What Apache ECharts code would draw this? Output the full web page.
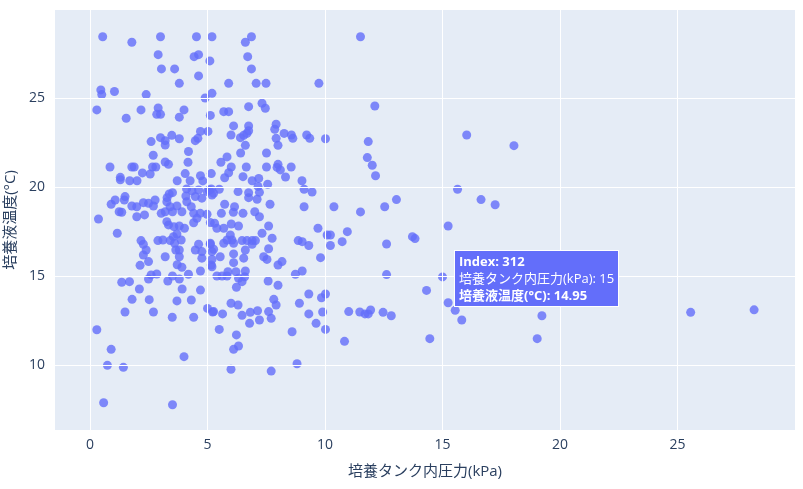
<!DOCTYPE html>
<html><head><meta charset="utf-8">
<script src="https://cdn.jsdelivr.net/npm/echarts@6/dist/echarts.min.js"></script>
<style>html,body{margin:0;padding:0;background:#fff}#c{width:803px;height:489px}</style>
</head><body><div id="c"></div>
<script>
const xName = '培養タンク内圧力(kPa)';
const yName = '培養液温度(°C)';
const xTicks = [0,5,10,15,20,25];
const yTicks = [10,15,20,25];
const points = [
[0.54,28.44],[1.78,28.13],[3.0,28.44],[4.53,28.44],[5.19,28.44],[2.9,27.43],[4.43,27.32],[4.62,27.43],[5.1,27.08],[3.04,26.63],
[3.6,26.63],[4.62,26.24],[3.8,25.82],[0.46,25.45],[0.5,25.19],[1.04,25.36],[2.39,25.19],[5.19,25.26],[4.9,25.0],[0.29,24.33],
[1.54,23.86],[2.17,24.33],[2.9,24.44],[2.84,24.08],[3.0,24.08],[4.0,24.33],[3.8,23.92],[5.12,24.02],[4.7,23.12],[5.02,23.12],
[3.48,22.9],[3.0,22.77],[3.2,22.6],[3.2,22.36],[2.6,22.55],[3.8,22.71],[4.48,22.6],[4.59,22.73],[4.19,21.99],[2.69,21.78],
[3.2,21.4],[3.34,21.27],[4.17,21.39],[0.85,21.12],[1.78,21.12],[1.88,21.12],[2.66,21.12],[2.8,21.12],[2.23,20.79],[2.56,20.73],
[1.29,20.54],[1.29,20.4],[1.69,20.35],[2.0,20.35],[3.71,20.35],[4.05,20.75],[4.26,20.35],[4.7,20.63],[5.16,20.75],[4.8,20.34],
[3.51,19.68],[3.37,19.61],[3.28,19.40],[4.11,19.89],[4.08,19.49],[4.34,19.78],[4.62,19.83],[4.48,19.46],[4.76,19.37],[4.98,19.74],
[5.16,19.89],[5.19,19.55],[1.07,19.27],[0.9,19.03],[1.49,19.46],[1.46,19.27],[1.78,18.93],[1.99,18.89],[2.27,19.12],[2.49,19.08],
[2.7,18.93],[2.77,19.27],[3.27,19.17],[3.41,18.89],[3.7,18.93],[4.12,19.17],[4.31,18.89],[1.24,18.61],[1.35,18.58],[3.03,18.52],
[3.2,18.61],[3.51,18.61],[3.91,18.61],[4.41,18.52],[4.69,18.52],[4.98,18.47],[0.36,18.2],[1.99,18.33],[2.32,18.43],
[6.61,28.13],[6.87,28.44],[11.51,28.44],[6.71,27.32],[6.87,26.63],[5.9,25.82],[7.07,25.82],[7.49,25.82],[9.74,25.82],[7.32,24.7],
[7.46,24.42],[6.75,24.51],[5.69,24.23],[5.9,24.23],[6.11,23.43],[6.75,23.43],[6.75,23.16],[7.92,23.52],[7.86,23.24],[6.0,22.92],
[6.4,22.77],[6.54,22.9],[6.68,23.01],[7.92,22.73],[8.0,22.34],[8.26,23.01],[8.57,22.92],[8.63,22.73],[9.22,22.92],[9.35,22.73],
[10.02,22.71],[6.61,22.34],[6.41,21.91],[7.51,21.91],[5.83,21.69],[5.57,21.39],[6.01,21.12],[5.9,20.8],[5.73,20.52],[6.65,21.12],
[7.51,21.12],[8.0,21.27],[7.96,21.1],[8.1,20.96],[8.32,20.56],[8.56,21.12],[6.51,20.58],[6.9,20.35],[7.18,20.48],[7.56,20.15],
[7.15,20.03],[7.21,19.7],[6.75,19.68],[6.75,19.4],[7.11,19.31],[6.3,19.74],[5.5,19.87],[5.26,19.65],[5.07,19.83],[9.02,20.35],
[9.11,19.87],[9.45,19.72],[7.66,19.03],[5.73,19.03],[6.15,18.89],[6.1,18.58],[5.59,18.52],[6.51,18.52],[7.01,18.61],[7.21,18.33],
[9.11,18.89],[10.38,18.89],[11.51,18.6],
[1.16,17.4],[2.17,16.99],[2.27,16.78],[2.39,16.46],[2.27,16.18],[2.49,15.81],[2.13,15.6],[2.89,16.99],[3.1,17.02],[3.41,16.99],
[3.55,17.21],[3.7,17.36],[3.88,17.02],[3.34,17.87],[3.57,17.77],[3.8,17.81],[4.02,17.68],[3.27,18.05],[4.41,17.99],[4.55,18.24],
[3.6,16.84],[3.65,16.46],[3.8,16.46],[3.8,16.08],[3.2,16.08],[3.71,15.63],[3.91,15.49],[4.19,15.1],[4.7,15.28],[4.48,16.46],
[4.62,16.78],[4.76,16.37],[4.76,16.0],[5.12,16.78],[5.19,16.37],[5.16,15.62],[1.35,14.65],[1.68,14.68],[2.6,15.06],[2.84,15.11],
[2.49,14.83],[2.1,14.27],[3.31,14.72],[3.51,15.0],[3.8,14.83],[3.92,14.27],[4.7,14.21],[1.79,13.69],[2.52,13.67],[3.7,13.6],
[4.31,13.65],[1.49,12.98],[2.7,12.98],[3.5,12.68],[4.41,12.68],[5.0,13.18],[5.22,12.98],[0.29,11.98],[0.9,10.88],[0.74,9.98],
[1.42,9.87],[4.0,10.47],[0.58,7.88],[3.51,7.77],
[5.12,18.0],[5.3,17.96],[5.4,17.68],[5.69,17.68],[6.01,17.92],[6.32,17.81],[7.6,17.81],[7.32,17.4],[7.75,17.12],[5.69,16.84],
[5.83,17.02],[5.97,17.3],[6.04,17.02],[6.11,16.84],[6.47,16.99],[6.68,16.99],[6.9,16.99],[7.04,16.99],[6.9,16.78],[5.12,16.84],
[5.26,16.5],[5.19,15.93],[5.19,15.52],[5.54,16.08],[6.11,16.24],[6.11,15.75],[6.54,16.0],[6.61,16.46],[7.6,16.53],[7.39,16.08],
[7.53,15.93],[8.0,15.62],[8.17,15.81],[5.4,15.0],[5.62,15.0],[5.83,15.0],[5.87,15.24],[6.21,15.24],[6.32,14.87],[6.47,14.68],
[6.58,14.96],[6.61,15.28],[6.23,14.37],[7.58,14.72],[8.0,14.48],[8.74,15.1],[9.03,15.28],[8.86,16.99],[9.03,16.93],[9.31,16.71],
[9.7,17.68],[10.09,17.3],[10.23,17.3],[10.23,16.71],[10.73,16.93],[10.95,17.49],[9.81,16.03],[5.26,13.0],[5.64,12.87],[6.0,13.47],
[6.3,13.37],[6.47,12.79],[6.82,12.96],[7.13,13.05],[7.6,13.0],[7.71,12.62],[7.21,12.53],[6.79,12.34],[7.82,13.69],[7.92,13.37],
[8.91,13.47],[9.31,13.99],[9.85,13.78],[10.02,13.99],[9.31,12.87],[9.9,12.98],[9.62,12.34],[10.02,12.0],[11.01,13.0],[11.48,12.98],
[11.7,12.87],[8.6,11.87],[10.83,11.33],[5.5,12.0],[6.23,11.69],[6.32,11.07],[6.11,10.88],[6.0,9.76],[7.71,9.66],[8.81,10.07],
[12.12,24.55],[16.03,22.92],[18.04,22.32],[11.84,22.55],[11.8,21.65],[12.01,21.22],[12.15,20.63],[15.64,19.87],[16.64,19.29],[17.24,19.0],
[13.04,19.29],[12.54,18.89],[15.24,17.81],[13.72,17.21],[13.83,17.1],[12.62,16.8],[12.62,15.08],[14.32,14.19],[15.24,13.5],[15.54,13.07],
[15.82,12.53],[11.84,12.87],[11.94,13.09],[12.47,12.96],[12.82,12.77],[19.23,12.77],[14.46,11.48],[19.03,11.48],[25.56,12.96],[28.26,13.1],
[15,14.95]
];
const hoverIndex = 312;
const hoverPoint = points.length - 1;

const chart = echarts.init(document.getElementById('c'), null, {renderer:'canvas'});
const font = "'Open Sans', 'Noto Sans CJK JP', sans-serif";
chart.setOption({
  backgroundColor:'#fff',
  animation:false,
  grid:{left:55,right:8,top:10,bottom:59,backgroundColor:'#e5ecf6',show:true,borderWidth:0,
        containLabel:false,outerBoundsMode:'none'},
  tooltip:{
    trigger:'item', alwaysShowContent:true, transitionDuration:0,
    backgroundColor:'#636efa', borderColor:'#ffffff', borderWidth:1, padding:[2,4],
    extraCssText:'border-radius:0;box-shadow:none;line-height:17px;',
    textStyle:{color:'#fff',fontSize:13,fontFamily:font},
    position:function(p){return [p[0]+11,p[1]-27];},
    formatter:function(p){
      return '<b>Index: '+hoverIndex+'</b><br>'+xName+': '+p.value[0]+'<br><b>'+yName+': '+p.value[1]+'</b>';
    }
  },
  xAxis:{type:'value',min:-1.49,max:30.0,
    name:xName,nameLocation:'middle',nameGap:34,
    nameTextStyle:{color:'#2a3f5f',fontSize:15,fontFamily:font},
    axisLine:{show:false},
    axisTick:{show:false,customValues:xTicks},
    axisLabel:{color:'#2a3f5f',fontSize:14,fontFamily:font,customValues:xTicks,margin:8},
    splitLine:{show:false}},
  yAxis:{type:'value',min:6.35,max:29.94,
    name:yName,nameLocation:'middle',nameGap:30,
    nameTextStyle:{color:'#2a3f5f',fontSize:15,fontFamily:font},
    axisLine:{show:false},
    axisTick:{show:false,customValues:yTicks},
    axisLabel:{color:'#2a3f5f',fontSize:14,fontFamily:font,customValues:yTicks,margin:10},
    splitLine:{show:false}},
  series:[
    {type:'line',data:[],silent:true,
     markLine:{silent:true,symbol:'none',label:{show:false},
       lineStyle:{color:'#fff',width:1,type:'solid'},
       data:xTicks.map(v=>({xAxis:v})).concat(yTicks.map(v=>({yAxis:v})))}},
    {type:'scatter',data:points,symbolSize:9,
     itemStyle:{color:'#636efa',opacity:0.8},emphasis:{disabled:true}}
  ]
});
chart.dispatchAction({type:'showTip',seriesIndex:1,dataIndex:hoverPoint});
</script></body></html>
